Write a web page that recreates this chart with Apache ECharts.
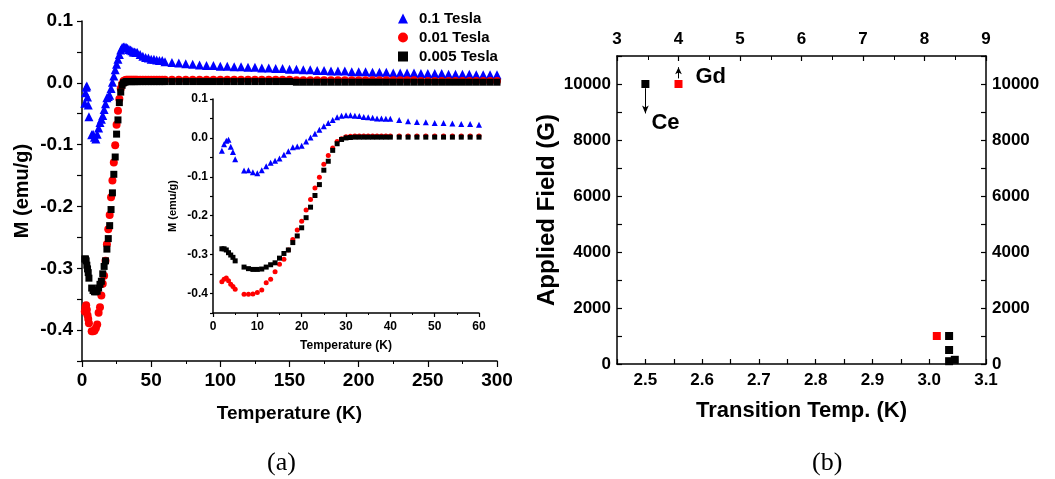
<!DOCTYPE html>
<html>
<head>
<meta charset="utf-8">
<script src="https://cdn.jsdelivr.net/npm/echarts@6/dist/echarts.min.js"></script>
<style>
html,body{margin:0;padding:0;background:#fff}
#chart{width:1055px;height:479px}
</style>
</head>
<body>
<div id="chart"></div>
<script>
// (a) magnetisation vs temperature
var temps = [2,2.5,3,3.5,4,4.5,5,
  7,8,9,10,11,12,13,14,15,16,17,18,19,20,21,22,23,24,25,26,27,28,29,30,31,32,33,34,35,36,37,38,39,40,
  42,44,46,48,50,52,54,56,58,60,
  65,70,75,80,85,90,95,100,105,110,115,120,125,130,135,140,145,150,155,160,165,170,175,180,185,190,195,200,
  205,210,215,220,225,230,235,240,245,250,255,260,265,270,275,280,285,290,295,300];

var m01 = [-0.033,-0.016,-0.007,-0.005,-0.023,-0.036,-0.055,
  -0.084,-0.083,-0.088,-0.091,-0.083,-0.073,-0.064,-0.059,-0.053,-0.043,-0.034,-0.024,-0.022,-0.020,
  -0.009,0.001,0.011,0.021,0.030,0.038,0.046,0.053,0.057,0.058,0.058,0.057,0.056,0.054,0.053,0.052,0.050,0.050,0.049,0.049,
  0.046,0.043,0.041,0.040,0.038,0.038,0.037,0.036,0.036,0.034,
  0.033,0.032,0.031,0.030,0.029,0.028,0.028,0.027,0.027,0.026,0.026,0.025,0.025,0.024,0.024,0.023,0.023,0.022,0.022,0.021,0.021,0.020,0.020,0.019,0.019,0.019,0.018,0.018,
  0.018,0.017,0.017,0.017,0.016,0.016,0.016,0.016,0.015,0.015,0.015,0.015,0.014,0.014,0.014,0.014,0.013,0.013,0.013,0.013];

var m001 = [-0.370,-0.363,-0.360,-0.367,-0.376,-0.382,-0.389,
  -0.402,-0.402,-0.401,-0.397,-0.391,-0.372,-0.363,-0.344,-0.325,-0.312,-0.288,-0.261,-0.237,-0.214,
  -0.185,-0.158,-0.129,-0.101,-0.068,-0.045,-0.026,-0.009,-0.002,0.003,0.004,0.005,0.005,0.005,0.005,0.005,0.005,0.005,0.005,0.005,
  0.005,0.005,0.005,0.005,0.005,0.005,0.005,0.005,0.005,0.005,
  0.005,0.005,0.005,0.005,0.005,0.005,0.005,0.005,0.005,0.005,0.005,0.005,0.005,0.005,0.005,0.005,0.005,0.005,0.004,0.004,0.004,0.004,0.004,0.004,0.004,0.004,0.004,0.004,
  0.004,0.004,0.004,0.004,0.004,0.004,0.004,0.004,0.003,0.003,0.003,0.003,0.003,0.003,0.003,0.003,0.003,0.003,0.003,0.003];

var m0005 = [-0.285,-0.285,-0.288,-0.295,-0.301,-0.307,-0.316,
  -0.332,-0.336,-0.338,-0.338,-0.337,-0.332,-0.326,-0.321,-0.309,-0.297,-0.288,-0.269,-0.252,-0.231,
  -0.205,-0.178,-0.148,-0.120,-0.083,-0.060,-0.032,-0.015,-0.004,0.000,0.001,0.002,0.002,0.002,0.002,0.002,0.002,0.002,0.002,0.002,
  0.002,0.002,0.002,0.002,0.002,0.002,0.002,0.002,0.002,0.002,
  0.002,0.002,0.002,0.002,0.002,0.002,0.002,0.002,0.002,0.002,0.002,0.002,0.002,0.002,0.002,0.002,0.002,0.002,0.001,0.001,0.001,0.001,0.001,0.001,0.001,0.001,0.001,0.001,
  0.001,0.001,0.001,0.001,0.001,0.001,0.001,0.001,0.001,0.001,0.001,0.001,0.001,0.001,0.001,0.001,0.001,0.001,0.001,0.001];

var seriesNames = ['0.1 Tesla', '0.01 Tesla', '0.005 Tesla'];
var mTicks = [-0.4, -0.3, -0.2, -0.1, 0, 0.1];

// (b) field vs transition temperature
var ceTemp = [2.5, 3.035, 3.035, 3.035, 3.045];   // bottom axis
var ceField = [10000, 1000, 500, 100, 150];
var gdTemp = [4.0, 8.2];                          // top axis
var gdField = [10000, 1000];
var tcTicks = [2.5, 2.6, 2.7, 2.8, 2.9, 3.0, 3.1];
var fieldTicks = [0, 2000, 4000, 6000, 8000, 10000];

var FONT = 'Liberation Sans';

function pairs(xs, ys, maxX) {
  var out = [];
  for (var i = 0; i < xs.length; i++) {
    if (maxX == null || xs[i] <= maxX) out.push([xs[i], ys[i]]);
  }
  return out;
}
function oneDec(v) { return v.toFixed(1); }
function plain(v) { return String(Math.round(v)); }

var chart = echarts.init(document.getElementById('chart'), null, {renderer: 'canvas'});

var axisBase = function (opt) {
  var lbl = Object.assign({color: '#000', fontFamily: FONT, fontWeight: 'bold'}, opt.label || {});
  return Object.assign({
    type: 'value',
    splitLine: {show: false},
    axisLine: {show: true, onZero: false, lineStyle: {color: '#000', width: 1.5}},
    axisTick: {show: true, inside: opt.inside, length: opt.tickLen || 6, lineStyle: {color: '#000', width: 1.2}},
    nameTextStyle: {color: '#000', fontFamily: FONT, fontWeight: 'bold', fontSize: opt.nameSize || 19},
    axisLabel: lbl
  }, opt.extra);
};

var option = {
  animation: false,
  backgroundColor: '#fff',
  legend: {
    orient: 'vertical',
    left: 393,
    top: 6,
    itemWidth: 10,
    itemHeight: 10,
    itemGap: 4,
    textStyle: {color: '#000', fontFamily: FONT, fontWeight: 'bold', fontSize: 15, padding: [0, 0, 0, 6]},
    data: [
      {name: seriesNames[0], icon: 'triangle'},
      {name: seriesNames[1], icon: 'circle'},
      {name: seriesNames[2], icon: 'rect'}
    ]
  },
  grid: [
    {left: 82, top: 21, width: 415, height: 340},
    {left: 213, top: 99, width: 266, height: 214, show: true, backgroundColor: '#fff', borderWidth: 0},
    {left: 617, top: 56, width: 369, height: 308}
  ],
  xAxis: [
    axisBase({inside: false, label: {fontSize: 19, margin: 10}, extra: {
      gridIndex: 0, min: 0, max: 300, interval: 50,
      minorTick: {show: true, splitNumber: 2, length: 3, lineStyle: {color: '#000'}},
      name: 'Temperature (K)', nameLocation: 'middle', nameGap: 43
    }}),
    axisBase({inside: false, tickLen: 4, nameSize: 12, label: {fontSize: 12, margin: 8}, extra: {
      gridIndex: 1, min: 0, max: 60, interval: 10,
      minorTick: {show: true, splitNumber: 2, length: 2, lineStyle: {color: '#000'}},
      name: 'Temperature (K)', nameLocation: 'middle', nameGap: 27
    }}),
    axisBase({inside: true, tickLen: 5, nameSize: 22, label: {fontSize: 17, margin: 8,
      customValues: tcTicks, formatter: oneDec}, extra: {
      gridIndex: 2, min: 2.45, max: 3.1, interval: 0.05,
      name: 'Transition Temp. (K)', nameLocation: 'middle', nameGap: 36
    }}),
    axisBase({inside: true, tickLen: 5, label: {fontSize: 17, margin: 8, formatter: plain}, extra: {
      gridIndex: 2, position: 'top', min: 3, max: 9, interval: 1,
      minorTick: {show: true, splitNumber: 2, length: 4, lineStyle: {color: '#000'}}
    }})
  ],
  yAxis: [
    axisBase({inside: false, tickLen: 5, nameSize: 20, label: {fontSize: 19, margin: 9,
      customValues: mTicks, formatter: oneDec}, extra: {
      gridIndex: 0, min: -0.45, max: 0.1, interval: 0.05,
      name: 'M (emu/g)', nameLocation: 'middle', nameGap: 50
    }}),
    axisBase({inside: false, tickLen: 3, nameSize: 11, label: {fontSize: 12, margin: 5,
      customValues: mTicks, formatter: oneDec}, extra: {
      gridIndex: 1, min: -0.45, max: 0.1, interval: 0.05,
      name: 'M (emu/g)', nameLocation: 'middle', nameGap: 35
    }}),
    axisBase({inside: true, tickLen: 5, nameSize: 24, label: {fontSize: 17, margin: 6,
      customValues: fieldTicks, formatter: plain}, extra: {
      gridIndex: 2, min: 0, max: 11000, interval: 1000,
      name: 'Applied Field (G)', nameLocation: 'middle', nameGap: 56
    }}),
    axisBase({inside: true, tickLen: 5, label: {fontSize: 17, margin: 6,
      customValues: fieldTicks, formatter: plain}, extra: {
      gridIndex: 2, position: 'right', min: 0, max: 11000, interval: 1000
    }})
  ],
  series: [
    {name: seriesNames[0], type: 'scatter', xAxisIndex: 0, yAxisIndex: 0, symbol: 'triangle', symbolSize: 9,
      itemStyle: {color: '#0000ff', opacity: 1}, data: pairs(temps, m01)},
    {name: seriesNames[1], type: 'scatter', xAxisIndex: 0, yAxisIndex: 0, symbol: 'circle', symbolSize: 8,
      itemStyle: {color: '#ff0000', opacity: 1}, data: pairs(temps, m001)},
    {name: seriesNames[2], type: 'scatter', xAxisIndex: 0, yAxisIndex: 0, symbol: 'rect', symbolSize: 7,
      itemStyle: {color: '#000000', opacity: 1}, data: pairs(temps, m0005)},
    // inset
    {name: seriesNames[0], type: 'scatter', xAxisIndex: 1, yAxisIndex: 1, symbol: 'triangle', symbolSize: 6,
      itemStyle: {color: '#0000ff', opacity: 1}, data: pairs(temps, m01, 60)},
    {name: seriesNames[1], type: 'scatter', xAxisIndex: 1, yAxisIndex: 1, symbol: 'circle', symbolSize: 5,
      itemStyle: {color: '#ff0000', opacity: 1}, data: pairs(temps, m001, 60)},
    {name: seriesNames[2], type: 'scatter', xAxisIndex: 1, yAxisIndex: 1, symbol: 'rect', symbolSize: 5,
      itemStyle: {color: '#000000', opacity: 1}, data: pairs(temps, m0005, 60)},
    // (b)
    {name: 'Ce', type: 'scatter', xAxisIndex: 2, yAxisIndex: 2, symbol: 'rect', symbolSize: 8,
      itemStyle: {color: '#000000', opacity: 1},
      data: pairs(ceTemp, ceField).map(function (p, i) {
        if (i > 0) return p;
        return {value: p, label: {show: true, formatter: 'Ce', position: [10, 32], color: '#000',
          fontFamily: FONT, fontWeight: 'bold', fontSize: 22}};
      }),
      markLine: {silent: true, symbol: ['none', 'arrow'], symbolSize: [5, 8], label: {show: false},
        lineStyle: {color: '#000', width: 1, type: 'solid', opacity: 1},
        data: [[{coord: [ceTemp[0], 9850]}, {coord: [ceTemp[0], 8950]}]]}
    },
    {name: 'Gd', type: 'scatter', xAxisIndex: 3, yAxisIndex: 2, symbol: 'rect', symbolSize: 8,
      itemStyle: {color: '#ff0000', opacity: 1},
      data: pairs(gdTemp, gdField).map(function (p, i) {
        if (i > 0) return p;
        return {value: p, label: {show: true, formatter: 'Gd', position: [21, -14], color: '#000',
          fontFamily: FONT, fontWeight: 'bold', fontSize: 22}};
      }),
      markLine: {silent: true, symbol: ['none', 'arrow'], symbolSize: [5, 7], label: {show: false},
        lineStyle: {color: '#000', width: 1, type: 'solid', opacity: 1},
        data: [[{coord: [gdTemp[0], 10200]}, {coord: [gdTemp[0], 10600]}]]}
    }
  ],
  graphic: [
    {type: 'text', left: 267, top: 450, style: {text: '(a)', fill: '#000', font: '26px "Liberation Serif"'}},
    {type: 'text', left: 812, top: 450, style: {text: '(b)', fill: '#000', font: '26px "Liberation Serif"'}}
  ]
};

chart.setOption(option);
</script>
</body>
</html>
